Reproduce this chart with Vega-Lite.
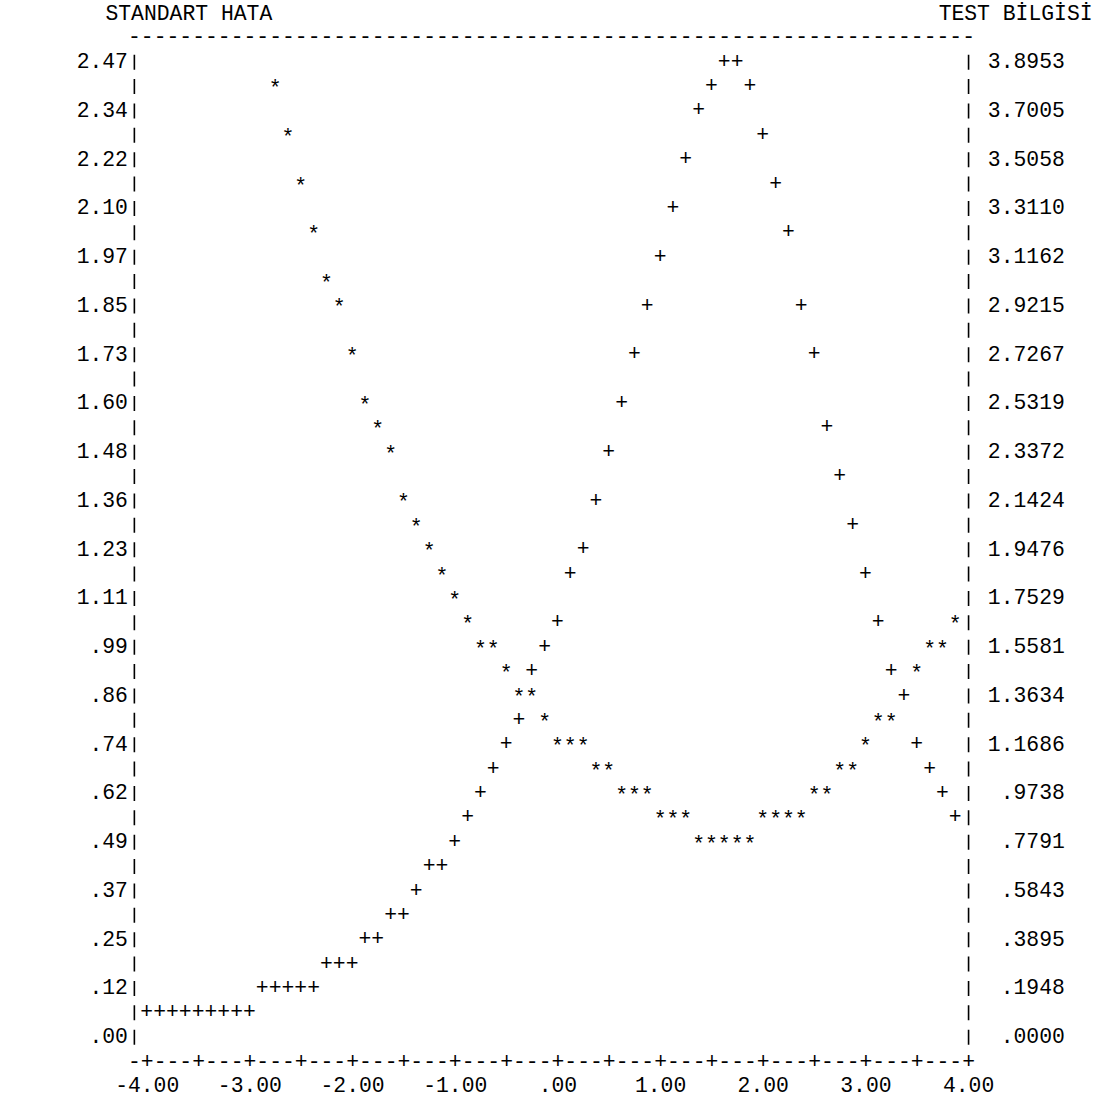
{
  "$schema": "https://vega.github.io/schema/vega-lite/v6.json",
  "autosize": {"type": "none"},
  "padding": {"left": 133.87, "top": 49.51, "right": 132.9, "bottom": 51.1},
  "width": 834.2,
  "height": 999.375,
  "background": "#ffffff",
  "datasets": {
    "se": [
      {"theta": -2.75, "value": 2.408}, {"theta": -2.625, "value": 2.285}, {"theta": -2.5, "value": 2.161},
      {"theta": -2.375, "value": 2.038}, {"theta": -2.25, "value": 1.914}, {"theta": -2.125, "value": 1.853},
      {"theta": -2.0, "value": 1.729}, {"theta": -1.875, "value": 1.606}, {"theta": -1.75, "value": 1.544},
      {"theta": -1.625, "value": 1.482}, {"theta": -1.5, "value": 1.359}, {"theta": -1.375, "value": 1.297},
      {"theta": -1.25, "value": 1.235}, {"theta": -1.125, "value": 1.173}, {"theta": -1.0, "value": 1.112},
      {"theta": -0.875, "value": 1.050}, {"theta": -0.75, "value": 0.988}, {"theta": -0.625, "value": 0.988},
      {"theta": -0.5, "value": 0.926}, {"theta": -0.375, "value": 0.865}, {"theta": -0.25, "value": 0.865},
      {"theta": -0.125, "value": 0.803}, {"theta": 0.0, "value": 0.741}, {"theta": 0.125, "value": 0.741},
      {"theta": 0.25, "value": 0.741}, {"theta": 0.375, "value": 0.679}, {"theta": 0.5, "value": 0.679},
      {"theta": 0.625, "value": 0.618}, {"theta": 0.75, "value": 0.618}, {"theta": 0.875, "value": 0.618},
      {"theta": 1.0, "value": 0.556}, {"theta": 1.125, "value": 0.556}, {"theta": 1.25, "value": 0.556},
      {"theta": 1.375, "value": 0.494}, {"theta": 1.5, "value": 0.494}, {"theta": 1.625, "value": 0.494},
      {"theta": 1.75, "value": 0.494}, {"theta": 1.875, "value": 0.494}, {"theta": 2.0, "value": 0.556},
      {"theta": 2.125, "value": 0.556}, {"theta": 2.25, "value": 0.556}, {"theta": 2.375, "value": 0.556},
      {"theta": 2.5, "value": 0.618}, {"theta": 2.625, "value": 0.618}, {"theta": 2.75, "value": 0.679},
      {"theta": 2.875, "value": 0.679}, {"theta": 3.0, "value": 0.741}, {"theta": 3.125, "value": 0.803},
      {"theta": 3.25, "value": 0.803}, {"theta": 3.5, "value": 0.926}, {"theta": 3.625, "value": 0.988},
      {"theta": 3.75, "value": 0.988}, {"theta": 3.875, "value": 1.050}
    ],
    "info": [
      {"theta": -4.0, "value": 0.097}, {"theta": -3.875, "value": 0.097}, {"theta": -3.75, "value": 0.097},
      {"theta": -3.625, "value": 0.097}, {"theta": -3.5, "value": 0.097}, {"theta": -3.375, "value": 0.097},
      {"theta": -3.25, "value": 0.097}, {"theta": -3.125, "value": 0.097}, {"theta": -3.0, "value": 0.097},
      {"theta": -2.875, "value": 0.195}, {"theta": -2.75, "value": 0.195}, {"theta": -2.625, "value": 0.195},
      {"theta": -2.5, "value": 0.195}, {"theta": -2.375, "value": 0.195}, {"theta": -2.25, "value": 0.292},
      {"theta": -2.125, "value": 0.292}, {"theta": -2.0, "value": 0.292}, {"theta": -1.875, "value": 0.390},
      {"theta": -1.75, "value": 0.390}, {"theta": -1.625, "value": 0.487}, {"theta": -1.5, "value": 0.487},
      {"theta": -1.375, "value": 0.584}, {"theta": -1.25, "value": 0.682}, {"theta": -1.125, "value": 0.682},
      {"theta": -1.0, "value": 0.779}, {"theta": -0.875, "value": 0.876}, {"theta": -0.75, "value": 0.974},
      {"theta": -0.625, "value": 1.071}, {"theta": -0.5, "value": 1.169}, {"theta": -0.375, "value": 1.266},
      {"theta": -0.25, "value": 1.461}, {"theta": -0.125, "value": 1.558}, {"theta": 0.0, "value": 1.655},
      {"theta": 0.125, "value": 1.850}, {"theta": 0.25, "value": 1.948}, {"theta": 0.375, "value": 2.142},
      {"theta": 0.5, "value": 2.337}, {"theta": 0.625, "value": 2.532}, {"theta": 0.75, "value": 2.727},
      {"theta": 0.875, "value": 2.921}, {"theta": 1.0, "value": 3.116}, {"theta": 1.125, "value": 3.311},
      {"theta": 1.25, "value": 3.506}, {"theta": 1.375, "value": 3.701}, {"theta": 1.5, "value": 3.798},
      {"theta": 1.625, "value": 3.895}, {"theta": 1.75, "value": 3.895}, {"theta": 1.875, "value": 3.798},
      {"theta": 2.0, "value": 3.603}, {"theta": 2.125, "value": 3.408}, {"theta": 2.25, "value": 3.214},
      {"theta": 2.375, "value": 2.921}, {"theta": 2.5, "value": 2.727}, {"theta": 2.625, "value": 2.435},
      {"theta": 2.75, "value": 2.240}, {"theta": 2.875, "value": 2.045}, {"theta": 3.0, "value": 1.850},
      {"theta": 3.125, "value": 1.655}, {"theta": 3.25, "value": 1.461}, {"theta": 3.375, "value": 1.363},
      {"theta": 3.5, "value": 1.169}, {"theta": 3.625, "value": 1.071}, {"theta": 3.75, "value": 0.974},
      {"theta": 3.875, "value": 0.876}
    ]
  },
  "config": {
    "view": {"stroke": null},
    "axis": {
      "grid": false, "domain": false, "ticks": false, "tickSize": 0,
      "labelFont": "Liberation Mono", "labelFontSize": 21.4, "labelColor": "#000000",
      "labelOverlap": false, "labelFlush": false, "labelBound": false,
      "titleFont": "Liberation Mono", "titleFontSize": 21.4, "titleFontWeight": "normal", "titleColor": "#000000"
    }
  },
  "layer": [
    {
      "data": {"name": "se"},
      "mark": {"type": "text", "text": "*", "font": "Liberation Mono", "fontSize": 21.4, "align": "center", "baseline": "middle", "dy": 3, "color": "#000000"},
      "encoding": {
        "x": {
          "field": "theta", "type": "quantitative",
          "scale": {"domain": [-4.125, 4.0], "nice": false, "zero": false},
          "axis": {
            "orient": "bottom", "title": null,
            "values": [-4.125,-4,-3.875,-3.75,-3.625,-3.5,-3.375,-3.25,-3.125,-3,-2.875,-2.75,-2.625,-2.5,-2.375,-2.25,-2.125,-2,-1.875,-1.75,-1.625,-1.5,-1.375,-1.25,-1.125,-1,-0.875,-0.75,-0.625,-0.5,-0.375,-0.25,-0.125,0,0.125,0.25,0.375,0.5,0.625,0.75,0.875,1,1.125,1.25,1.375,1.5,1.625,1.75,1.875,2,2.125,2.25,2.375,2.5,2.625,2.75,2.875,3,3.125,3.25,3.375,3.5,3.625,3.75,3.875,4],
            "labelExpr": "[ (round((datum.value+4)*8) >= 0 && round((datum.value+4)*8) % 4 == 0) ? '+' : '-', (round((datum.value+4)*8) >= 0 && round((datum.value+4)*8) % 8 == 0) ? ['-4.00','-3.00','-2.00','-1.00','.00','1.00','2.00','3.00','4.00'][round((datum.value+4)*8)/8] : '' ]",
            "labelAlign": "center", "labelBaseline": "top", "labelPadding": 1.69, "labelLineHeight": 24.4
          }
        },
        "y": {
          "field": "value", "type": "quantitative",
          "scale": {"domain": [-0.030875, 2.500875], "nice": false, "zero": false},
          "axis": {
            "orient": "left",
            "title": "STANDART HATA", "titleAngle": 0, "titleAlign": "left", "titleBaseline": "middle",
            "titleX": -28.9, "titleY": -36.5,
            "domain": true, "domainColor": "#000000", "domainWidth": 1.6, "domainDash": [15, 9.375], "domainDashOffset": 19.6875,
            "values": [0,0.06175,0.1235,0.18525,0.247,0.30875,0.3705,0.43225,0.494,0.55575,0.6175,0.67925,0.741,0.80275,0.8645,0.92625,0.988,1.04975,1.1115,1.17325,1.235,1.29675,1.3585,1.42025,1.482,1.54375,1.6055,1.66725,1.729,1.79075,1.8525,1.91425,1.976,2.03775,2.0995,2.16125,2.223,2.28475,2.3465,2.40825,2.47],
            "labelExpr": "round(datum.value/0.06175) % 2 == 0 ? ['.00','.12','.25','.37','.49','.62','.74','.86','.99','1.11','1.23','1.36','1.48','1.60','1.73','1.85','1.97','2.10','2.22','2.34','2.47'][round(datum.value/0.06175)/2] : ''",
            "labelAlign": "right", "labelBaseline": "middle", "labelPadding": 6.42
          }
        }
      }
    },
    {
      "data": {"name": "info"},
      "mark": {"type": "text", "text": "+", "font": "Liberation Mono", "fontSize": 21.4, "align": "center", "baseline": "middle", "color": "#000000"},
      "encoding": {
        "x": {
          "field": "theta", "type": "quantitative",
          "axis": {
            "orient": "top", "title": null,
            "values": [-4.125,-4,-3.875,-3.75,-3.625,-3.5,-3.375,-3.25,-3.125,-3,-2.875,-2.75,-2.625,-2.5,-2.375,-2.25,-2.125,-2,-1.875,-1.75,-1.625,-1.5,-1.375,-1.25,-1.125,-1,-0.875,-0.75,-0.625,-0.5,-0.375,-0.25,-0.125,0,0.125,0.25,0.375,0.5,0.625,0.75,0.875,1,1.125,1.25,1.375,1.5,1.625,1.75,1.875,2,2.125,2.25,2.375,2.5,2.625,2.75,2.875,3,3.125,3.25,3.375,3.5,3.625,3.75,3.875,4],
            "labelExpr": "'-'",
            "labelAlign": "center", "labelBaseline": "middle", "labelPadding": 12.99
          }
        },
        "y": {
          "field": "value", "type": "quantitative",
          "scale": {"domain": [-0.04869125, 3.94399125], "nice": false, "zero": false},
          "axis": {
            "orient": "right",
            "title": "TEST BİLGİSİ", "titleAngle": 0, "titleAlign": "right", "titleBaseline": "middle",
            "titleX": 124, "titleY": -36.5,
            "domain": true, "domainColor": "#000000", "domainWidth": 1.6, "domainDash": [15, 9.375], "domainDashOffset": 19.6875,
            "values": [0,0.0973825,0.194765,0.2921475,0.38953,0.4869125,0.584295,0.6816775,0.77906,0.8764425,0.973825,1.0712075,1.16859,1.2659725,1.363355,1.4607375,1.55812,1.6555025,1.752885,1.8502675,1.94765,2.0450325,2.142415,2.2397975,2.33718,2.4345625,2.531945,2.6293275,2.72671,2.8240925,2.921475,3.0188575,3.11624,3.2136225,3.311005,3.4083875,3.50577,3.6031625,3.700535,3.7979175,3.8953],
            "labelExpr": "round(datum.value/0.0973825) % 2 == 0 ? ['.0000','.1948','.3895','.5843','.7791','.9738','1.1686','1.3634','1.5581','1.7529','1.9476','2.1424','2.3372','2.5319','2.7267','2.9215','3.1162','3.3110','3.5058','3.7005','3.8953'][round(datum.value/0.0973825)/2] : ''",
            "labelAlign": "right", "labelBaseline": "middle", "labelPadding": 96.25
          }
        }
      }
    }
  ],
  "resolve": {"scale": {"y": "independent"}, "axis": {"x": "independent", "y": "independent"}}
}
